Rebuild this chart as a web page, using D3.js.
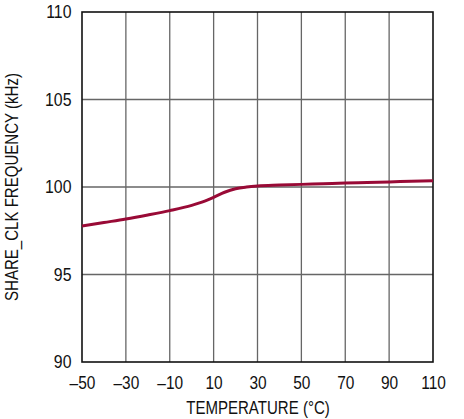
<!DOCTYPE html>
<html><head><meta charset="utf-8">
<script src="https://cdn.jsdelivr.net/npm/d3@7"></script>
<style>body{margin:0;background:#fff}text{font-family:"Liberation Sans",Arial,sans-serif;fill:#111}</style>
</head><body><svg id="c" width="464" height="419"></svg>
<script>
const temps = [-50,-40,-30,-20,-10,0,5,10,15,20,25,30,40,50,60,70,80,90,100,110];
const freq = [97.77,97.97,98.17,98.4,98.65,98.95,99.15,99.41,99.7,99.9,100.0,100.06,100.11,100.15,100.19,100.23,100.26,100.29,100.33,100.36];
const xTicks = [-50,-30,-10,10,30,50,70,90,110];
const yTicks = [90,95,100,105,110];
const xTitle = "TEMPERATURE (°C)";
const yTitle = "SHARE_CLK FREQUENCY (kHz)";

const svg = d3.select("#c");
const L=82,R=433,T=12,B=362;
const x = d3.scaleLinear().domain([-50,110]).range([L,R]);
const y = d3.scaleLinear().domain([90,110]).range([B,T]);
const fmt = d => d<0 ? "\u2013"+Math.abs(d) : String(d);

svg.append("g").selectAll("line").data(xTicks.slice(1,-1)).join("line")
  .attr("x1",d=>x(d)).attr("x2",d=>x(d)).attr("y1",T).attr("y2",B)
  .attr("stroke","#666").attr("stroke-width",1.3);
svg.append("g").selectAll("line").data(yTicks.slice(1,-1)).join("line")
  .attr("y1",d=>y(d)).attr("y2",d=>y(d)).attr("x1",L).attr("x2",R)
  .attr("stroke","#666").attr("stroke-width",1.3);
svg.append("rect").attr("x",L).attr("y",T).attr("width",R-L).attr("height",B-T)
  .attr("fill","none").attr("stroke","#111").attr("stroke-width",1.6);

const xa = svg.append("g").attr("transform",`translate(0,${B})`)
  .call(d3.axisBottom(x).tickValues(xTicks).tickFormat(fmt).tickSize(0).tickPadding(14));
xa.select(".domain").remove();
xa.selectAll("text").attr("font-size",18).attr("fill","#111").attr("transform","scale(0.86,1)");
const ya = svg.append("g").attr("transform",`translate(${L},0)`)
  .call(d3.axisLeft(y).tickValues(yTicks).tickSize(0).tickPadding(12));
ya.select(".domain").remove();
ya.selectAll("text").attr("font-size",18).attr("fill","#111").attr("transform","scale(0.88,1)");

svg.append("text").attr("transform",`translate(${(L+R)/2+0.5},414) scale(0.86,1)`).attr("text-anchor","middle").attr("font-size",17.5).text(xTitle);
svg.append("text").attr("transform",`translate(18,${(T+B)/2}) rotate(-90) scale(0.86,1)`).attr("text-anchor","middle").attr("font-size",17.5).text(yTitle);

svg.append("path").datum(temps.map((t,i)=>[t,freq[i]]))
  .attr("d",d3.line().x(d=>x(d[0])).y(d=>y(d[1])).curve(d3.curveMonotoneX))
  .attr("fill","none").attr("stroke","#990a36").attr("stroke-width",3);
</script></body></html>
